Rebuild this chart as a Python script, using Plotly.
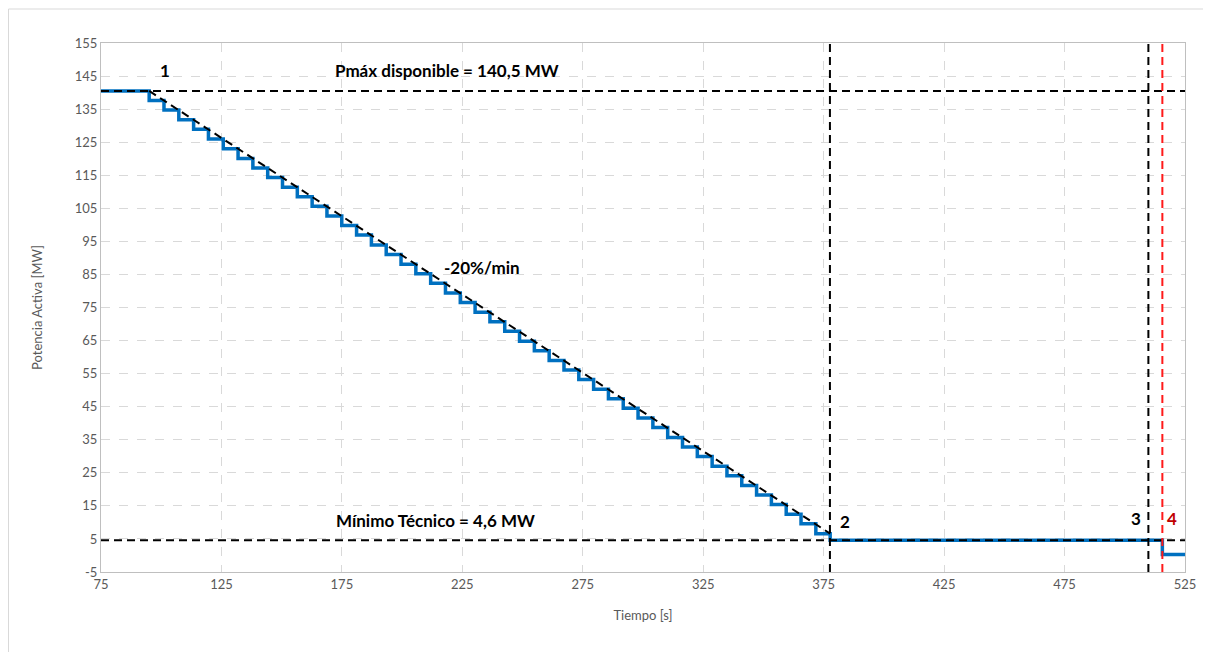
import plotly.graph_objects as go

# ---- data ----
step_times = [75.0, 95.0, 101.15, 107.3, 113.45, 119.6, 125.75, 131.9, 138.05, 144.2, 150.35,
              156.5, 162.65, 168.8, 174.95, 181.1, 187.25, 193.4, 199.55, 205.7, 211.85,
              218.0, 224.15, 230.3, 236.45, 242.6, 248.75, 254.9, 261.05, 267.2, 273.35,
              279.5, 285.65, 291.8, 297.95, 304.1, 310.25, 316.4, 322.55, 328.7, 334.85,
              341.0, 347.15, 353.3, 359.45, 365.6, 371.75, 377.7, 515.6, 525.0]
power_mw = [140.5, 137.6, 134.7, 131.8, 128.9, 126.0, 123.0, 120.1, 117.2, 114.3, 111.4,
            108.5, 105.6, 102.7, 99.8, 96.9, 93.9, 91.0, 88.1, 85.2, 82.3,
            79.4, 76.5, 73.6, 70.7, 67.8, 64.8, 61.9, 59.0, 56.1, 53.2,
            50.3, 47.4, 44.5, 41.6, 38.7, 35.7, 32.8, 29.9, 27.0, 24.1,
            21.2, 18.3, 15.4, 12.5, 9.6, 6.6, 4.6, 0.3, 0.3]

pmax = 140.5
pmin = 4.6
ramp_x = [95.0, 377.7]
ramp_y = [140.5, 6.6]
event_times = [377.6, 509.8, 515.6]

x_ticks = [75, 125, 175, 225, 275, 325, 375, 425, 475, 525]
y_ticks = [-5, 5, 15, 25, 35, 45, 55, 65, 75, 85, 95, 105, 115, 125, 135, 145, 155]
y_tick_labels = ["-5", "5", "15", "25", "35", "45", "55", "65", "75", "85", "95",
                 "105", "115", "125", "135", "145", "155"]
x_range = [75, 525]
y_range = [-5, 155]

FONT = "Lato"
DASH = "8px,5px"

fig = go.Figure()

fig.add_trace(go.Scatter(x=step_times, y=power_mw, mode="lines", line_shape="hv",
                         line=dict(color="#0070c0", width=3.5), showlegend=False))

# reference lines
fig.add_trace(go.Scatter(x=x_range, y=[pmax, pmax], mode="lines",
                         line=dict(color="black", width=2, dash=DASH), showlegend=False))
fig.add_trace(go.Scatter(x=x_range, y=[pmin, pmin], mode="lines",
                         line=dict(color="black", width=2, dash=DASH), showlegend=False))
fig.add_trace(go.Scatter(x=ramp_x, y=ramp_y, mode="lines",
                         line=dict(color="black", width=2, dash=DASH), showlegend=False))
for t, c in zip(event_times, ["black", "black", "#ff1a1a"]):
    fig.add_trace(go.Scatter(x=[t, t], y=y_range, mode="lines",
                             line=dict(color=c, width=2, dash=DASH), showlegend=False))

ann_font = dict(family=FONT, size=17, color="black")
annotations = [
    dict(x=101.4, y=146.8, text="<b>1</b>", font=ann_font),
    dict(x=218.5, y=146.6, text="<b>Pmáx disponible = 140,5 MW</b>", font=ann_font),
    dict(x=233.1, y=87.2, text="<b>-20%/min</b>", font=ann_font),
    dict(x=214.0, y=10.5, text="<b>Mínimo Técnico = 4,6 MW</b>", font=ann_font),
    dict(x=383.8, y=10.3, text="<b>2</b>", font=ann_font),
    dict(x=504.6, y=11.3, text="<b>3</b>", font=ann_font),
    dict(x=519.5, y=11.3, text="<b>4</b>", font=dict(family=FONT, size=17, color="#c00000")),
]
for a in annotations:
    a.update(xref="x", yref="y", showarrow=False)

# page has an 8px body margin: figure is offset by 8px right and down
fig.update_layout(
    width=1203, height=644,
    margin=dict(l=93, r=26, t=35, b=80),
    paper_bgcolor="white", plot_bgcolor="white",
    font=dict(family=FONT, size=13, color="#595959"),
    annotations=annotations,
    shapes=[dict(type="rect", xref="paper", yref="paper",
                 x0=-92.5 / 1084, x1=1.2, y0=-0.3, y1=1 + 34 / 529,
                 line=dict(color="#d9d9d9", width=1), layer="below")],
)
fig.update_xaxes(range=x_range, tickvals=x_ticks, showgrid=True, gridcolor="#d9d9d9",
                 griddash="dash", gridwidth=1, showline=True, linecolor="#bfbfbf",
                 linewidth=1, mirror=True, zeroline=False, ticks="",
                 tickfont=dict(size=13, color="#595959"),
                 title=dict(text="Tiempo [s]", font=dict(size=13, color="#595959"), standoff=20))
fig.update_yaxes(range=y_range, tickvals=y_ticks, ticktext=y_tick_labels, showgrid=True,
                 gridcolor="#d9d9d9", griddash="dash", gridwidth=1, showline=True,
                 linecolor="#bfbfbf", linewidth=1, mirror=True, zeroline=False, ticks="",
                 tickfont=dict(size=13, color="#595959"),
                 title=dict(text="Potencia Activa [MW]", font=dict(size=13, color="#595959"), standoff=29))

fig.write_html("out.html")
